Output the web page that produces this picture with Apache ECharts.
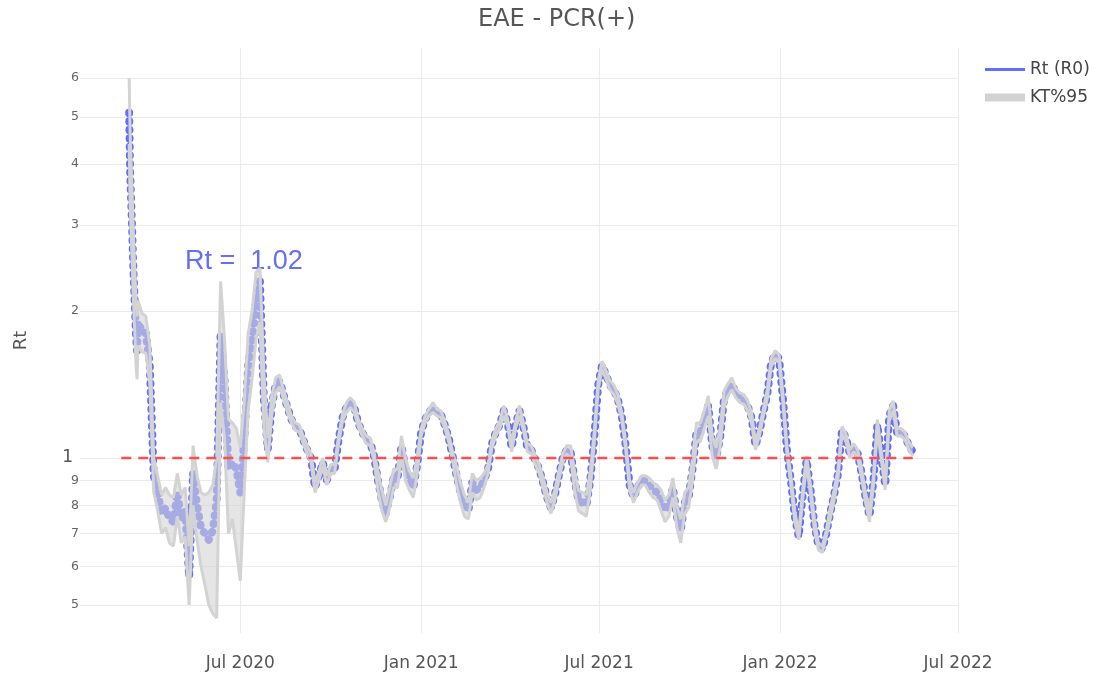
<!DOCTYPE html>
<html>
<head>
<meta charset="utf-8">
<title>EAE - PCR(+)</title>
<script src="https://cdn.jsdelivr.net/npm/echarts@6.0.0/dist/echarts.min.js"></script>
<style>
html,body{margin:0;padding:0;background:#fff;}
#container{width:1100px;height:673px;}
</style>
</head>
<body>
<div id="container"></div>
<script>
// daily for the first days, then every 4 days
var dates = [
'2020-03-10','2020-03-11','2020-03-12','2020-03-13','2020-03-14','2020-03-15','2020-03-16','2020-03-17','2020-03-18',
'2020-03-19','2020-03-23','2020-03-27','2020-03-31','2020-04-04','2020-04-08','2020-04-12','2020-04-16','2020-04-20','2020-04-24',
'2020-04-28','2020-05-02','2020-05-06','2020-05-10','2020-05-14','2020-05-18','2020-05-22','2020-05-26','2020-05-30','2020-06-03',
'2020-06-07','2020-06-11','2020-06-15','2020-06-19','2020-06-23','2020-06-27','2020-07-01','2020-07-05','2020-07-09','2020-07-13',
'2020-07-17','2020-07-21','2020-07-25','2020-07-29','2020-08-02','2020-08-06','2020-08-10','2020-08-14','2020-08-18','2020-08-22',
'2020-08-26','2020-08-30','2020-09-03','2020-09-07','2020-09-11','2020-09-15','2020-09-19','2020-09-23','2020-09-27','2020-10-01',
'2020-10-05','2020-10-09','2020-10-13','2020-10-17','2020-10-21','2020-10-25','2020-10-29','2020-11-02','2020-11-06','2020-11-10',
'2020-11-14','2020-11-18','2020-11-22','2020-11-26','2020-11-30','2020-12-04','2020-12-08','2020-12-12','2020-12-16','2020-12-20',
'2020-12-24','2020-12-28','2021-01-01','2021-01-05','2021-01-09','2021-01-13','2021-01-17','2021-01-21','2021-01-25','2021-01-29',
'2021-02-02','2021-02-06','2021-02-10','2021-02-14','2021-02-18','2021-02-22','2021-02-26','2021-03-02','2021-03-06','2021-03-10',
'2021-03-14','2021-03-18','2021-03-22','2021-03-26','2021-03-30','2021-04-03','2021-04-07','2021-04-11','2021-04-15','2021-04-19',
'2021-04-23','2021-04-27','2021-05-01','2021-05-05','2021-05-09','2021-05-13','2021-05-17','2021-05-21','2021-05-25','2021-05-29',
'2021-06-02','2021-06-06','2021-06-10','2021-06-14','2021-06-18','2021-06-22','2021-06-26','2021-06-30','2021-07-04','2021-07-08',
'2021-07-12','2021-07-16','2021-07-20','2021-07-24','2021-07-28','2021-08-01','2021-08-05','2021-08-09','2021-08-13','2021-08-17',
'2021-08-21','2021-08-25','2021-08-29','2021-09-02','2021-09-06','2021-09-10','2021-09-14','2021-09-18','2021-09-22','2021-09-26',
'2021-09-30','2021-10-04','2021-10-08','2021-10-12','2021-10-16','2021-10-20','2021-10-24','2021-10-28','2021-11-01','2021-11-05',
'2021-11-09','2021-11-13','2021-11-17','2021-11-21','2021-11-25','2021-11-29','2021-12-03','2021-12-07','2021-12-11','2021-12-15',
'2021-12-19','2021-12-23','2021-12-27','2021-12-31','2022-01-04','2022-01-08','2022-01-12','2022-01-16','2022-01-20','2022-01-24',
'2022-01-28','2022-02-01','2022-02-05','2022-02-09','2022-02-13','2022-02-17','2022-02-21','2022-02-25','2022-03-01','2022-03-05',
'2022-03-09','2022-03-13','2022-03-17','2022-03-21','2022-03-25','2022-03-29','2022-04-02','2022-04-06','2022-04-10','2022-04-14',
'2022-04-18','2022-04-22','2022-04-26','2022-04-30','2022-05-04','2022-05-08','2022-05-12','2022-05-16'
];

var rt = [
5.1,3.86,3.38,2.96,2.53,2.25,2.0,1.78,1.66,
1.9,1.82,1.8,1.55,0.92,0.85,0.77,0.79,0.75,0.74,
0.85,0.75,0.78,0.57,0.93,0.8,0.72,0.7,0.68,0.71,
0.82,1.8,1.44,0.95,0.98,0.95,0.85,1.09,1.54,1.75,
2.1,2.3,1.32,1.04,1.28,1.41,1.44,1.35,1.27,1.2,
1.16,1.15,1.09,1.04,1.0,0.87,0.92,0.98,0.9,0.95,
0.95,1.09,1.21,1.27,1.3,1.27,1.18,1.13,1.09,1.08,
1.01,0.9,0.82,0.77,0.83,0.91,0.91,1.06,0.95,0.9,
0.87,0.97,1.13,1.2,1.24,1.27,1.24,1.23,1.17,1.1,
1.01,0.92,0.85,0.8,0.78,0.89,0.86,0.87,0.9,0.95,
1.07,1.13,1.17,1.25,1.18,1.05,1.17,1.25,1.16,1.05,
1.04,0.99,0.95,0.89,0.83,0.79,0.84,0.92,1.0,1.04,
1.03,0.9,0.82,0.81,0.8,0.9,1.1,1.41,1.55,1.48,
1.41,1.38,1.32,1.22,1.06,0.88,0.83,0.87,0.9,0.9,
0.88,0.86,0.85,0.82,0.78,0.8,0.87,0.76,0.71,0.81,
0.83,0.95,1.13,1.13,1.2,1.28,1.06,1.0,1.1,1.32,
1.38,1.42,1.36,1.33,1.32,1.28,1.21,1.06,1.13,1.24,
1.35,1.57,1.63,1.6,1.32,1.04,0.9,0.76,0.69,0.84,
0.99,0.86,0.73,0.66,0.65,0.7,0.77,0.84,0.93,1.14,
1.1,1.02,1.05,1.02,0.93,0.83,0.76,0.9,1.17,1.01,
0.88,1.22,1.28,1.13,1.13,1.11,1.06,1.03
];

var ciLow = [
4.4,3.3,2.9,2.55,2.2,1.95,1.75,1.55,1.45,
1.7,1.65,1.64,1.42,0.85,0.78,0.7,0.72,0.67,0.66,
0.76,0.67,0.69,0.5,0.8,0.68,0.6,0.55,0.5,0.48,
0.47,1.3,1.1,0.7,0.75,0.65,0.56,0.85,1.25,1.45,
1.75,1.9,1.15,0.98,1.22,1.36,1.4,1.32,1.24,1.18,
1.14,1.13,1.07,1.02,0.98,0.85,0.9,0.96,0.88,0.93,
0.93,1.07,1.19,1.24,1.27,1.24,1.16,1.11,1.07,1.06,
0.99,0.86,0.78,0.74,0.79,0.87,0.87,1.01,0.9,0.86,
0.83,0.93,1.11,1.18,1.22,1.24,1.22,1.21,1.15,1.08,
0.99,0.88,0.81,0.76,0.75,0.85,0.82,0.83,0.87,0.93,
1.05,1.11,1.15,1.22,1.16,1.03,1.15,1.22,1.14,1.03,
1.02,0.97,0.93,0.87,0.81,0.77,0.82,0.9,0.98,1.02,
1.0,0.86,0.78,0.77,0.76,0.86,1.07,1.38,1.52,1.45,
1.38,1.35,1.29,1.2,1.04,0.86,0.81,0.85,0.88,0.88,
0.85,0.83,0.82,0.78,0.74,0.76,0.83,0.72,0.67,0.77,
0.79,0.9,1.08,1.08,1.15,1.22,1.01,0.95,1.05,1.27,
1.34,1.38,1.33,1.3,1.29,1.25,1.18,1.04,1.11,1.22,
1.32,1.54,1.6,1.57,1.29,1.02,0.88,0.74,0.68,0.82,
0.97,0.84,0.71,0.65,0.64,0.69,0.75,0.82,0.91,1.12,
1.08,1.0,1.03,1.0,0.91,0.81,0.74,0.88,1.14,0.99,
0.86,1.19,1.25,1.11,1.11,1.09,1.04,1.01
];

var ciHigh = [
6.0,4.6,4.0,3.5,3.0,2.65,2.35,2.1,1.95,
2.1,1.98,1.95,1.7,1.0,0.92,0.84,0.87,0.84,0.83,
0.93,0.84,0.87,0.66,1.06,0.92,0.85,0.84,0.85,0.88,
1.0,2.3,1.75,1.2,1.18,1.15,1.05,1.3,1.8,2.0,
2.4,2.45,1.5,1.1,1.34,1.46,1.48,1.38,1.3,1.22,
1.18,1.17,1.11,1.06,1.02,0.89,0.94,1.0,0.92,0.97,
0.97,1.11,1.23,1.3,1.33,1.3,1.2,1.15,1.11,1.1,
1.03,0.94,0.86,0.8,0.87,0.95,0.95,1.11,1.0,0.94,
0.91,1.01,1.15,1.22,1.26,1.3,1.26,1.25,1.19,1.12,
1.03,0.96,0.89,0.84,0.81,0.93,0.9,0.91,0.93,0.97,
1.09,1.15,1.19,1.28,1.2,1.07,1.19,1.28,1.18,1.07,
1.06,1.01,0.97,0.91,0.85,0.81,0.86,0.94,1.02,1.06,
1.06,0.94,0.86,0.85,0.84,0.94,1.13,1.44,1.58,1.51,
1.44,1.41,1.35,1.24,1.08,0.9,0.85,0.89,0.92,0.92,
0.91,0.89,0.88,0.86,0.82,0.84,0.91,0.8,0.75,0.85,
0.87,1.0,1.18,1.18,1.25,1.34,1.11,1.05,1.15,1.37,
1.42,1.46,1.39,1.36,1.35,1.31,1.24,1.08,1.15,1.26,
1.38,1.6,1.66,1.63,1.35,1.06,0.92,0.78,0.7,0.86,
1.01,0.88,0.75,0.67,0.66,0.71,0.79,0.86,0.95,1.16,
1.12,1.04,1.07,1.04,0.95,0.85,0.78,0.92,1.2,1.03,
0.9,1.25,1.31,1.15,1.15,1.13,1.08,1.05
];

var refDates = ['2020-03-02','2022-05-16'];
var refValues = [1, 1];

var xTickDates = ['2020-07-01','2021-01-01','2021-07-01','2022-01-01','2022-07-01'];
var xTickLabels = ['Jul 2020','Jan 2021','Jul 2021','Jan 2022','Jul 2022'];
var yTickValues = [0.5, 0.6, 0.7, 0.8, 0.9, 1, 2, 3, 4, 5, 6];

var lastRt = '1.02';

function toTime(s) {
    return new Date(s + 'T00:00:00Z').getTime();
}
var times = dates.map(toTime);
var xTickTimes = xTickDates.map(toTime);

var rtData = times.map(function (t, i) { return [t, rt[i]]; });
var lowData = times.map(function (t, i) { return [t, ciLow[i]]; });
var highData = times.map(function (t, i) { return [t, ciHigh[i]]; });
var refData = refDates.map(function (d, i) { return [toTime(d), refValues[i]]; });

var FONT = '"DejaVu Sans", Verdana, sans-serif';
var BLUE = '#636efa';
var GREY = '#d3d3d3';

var myChart = echarts.init(document.getElementById('container'), null, { renderer: 'canvas' });

var option = {
    animation: false,
    backgroundColor: '#fff',
    title: {
        text: 'EAE - PCR(+)',
        left: 478,
        top: 8,
        padding: 0,
        textStyle: { fontFamily: FONT, fontSize: 24, fontWeight: 'normal', color: '#555' }
    },
    legend: [
        {
            left: 985, top: 61, padding: 0, icon: 'rect', itemWidth: 40, itemHeight: 3, itemGap: 7,
            data: [{ name: 'Rt (R0)', itemStyle: { color: BLUE } }],
            textStyle: { fontFamily: FONT, fontSize: 17, color: '#444' }
        },
        {
            left: 985, top: 89, padding: 0, icon: 'rect', itemWidth: 40, itemHeight: 8,
            data: [{ name: 'KT%95', itemStyle: { color: GREY } }],
            textStyle: { fontFamily: FONT, fontSize: 17, color: '#444' }
        }
    ],
    grid: { left: 80, right: 142, top: 48, bottom: 40, containLabel: false },
    xAxis: {
        type: 'value',
        min: toTime('2020-01-20'),
        max: toTime('2022-07-01'),
        axisLine: { show: false },
        axisTick: { show: false, customValues: xTickTimes },
        splitLine: { show: true, lineStyle: { color: '#ebebeb', width: 1 } },
        axisLabel: {
            customValues: xTickTimes,
            margin: 22,
            fontFamily: FONT,
            fontSize: 17,
            color: '#555',
            formatter: function (val) {
                var i = xTickTimes.indexOf(val);
                return i >= 0 ? xTickLabels[i] : '';
            }
        }
    },
    yAxis: {
        type: 'log',
        logBase: 10,
        min: 0.438,
        max: 6.92,
        name: 'Rt',
        nameLocation: 'middle',
        nameGap: 50,
        nameRotate: 90,
        nameTextStyle: { fontFamily: FONT, fontSize: 18, color: '#555' },
        axisLine: { show: false },
        axisTick: { show: false, customValues: yTickValues },
        splitLine: { show: true, lineStyle: { color: '#ebebeb', width: 1 } },
        axisLabel: {
            customValues: yTickValues,
            margin: 1,
            formatter: function (v) {
                if (Math.abs(v - 1) < 1e-6) return '{big|1}';
                if (v < 1) return '{sm|' + Math.round(v * 10) + '}';
                return '{sm|' + Math.round(v) + '}';
            },
            rich: {
                big: { fontFamily: FONT, fontSize: 17, color: '#555', padding: [0, 6, 0, 0] },
                sm: { fontFamily: FONT, fontSize: 12.5, color: '#666' }
            }
        }
    },
    graphic: [
        {
            type: 'text',
            x: 185,
            y: 262,
            style: {
                text: 'Rt =  ' + lastRt,
                fontFamily: '"Liberation Sans", Arial, sans-serif',
                fontSize: 27,
                fill: BLUE,
                verticalAlign: 'middle'
            }
        }
    ],
    series: [
        {
            // dotted thick line stands in for the dense daily markers
            name: 'Rt (R0)',
            type: 'line',
            data: rtData,
            z: 2,
            symbol: 'none',
            lineStyle: { color: BLUE, width: 8, type: [0.5, 8], cap: 'round', join: 'round' },
            itemStyle: { color: BLUE },
            emphasis: { disabled: true }
        },
        {
            name: 'Rt (R0)',
            type: 'line',
            data: rtData,
            z: 2,
            symbol: 'none',
            lineStyle: { color: BLUE, width: 2 },
            itemStyle: { color: BLUE },
            emphasis: { disabled: true }
        },
        {
            // shaded area between the lower and upper bound
            name: 'KT%95',
            type: 'custom',
            z: 3,
            silent: true,
            data: [[times[0], ciLow[0]]],
            renderItem: function (params, api) {
                var pts = [];
                for (var i = 0; i < times.length; i++) {
                    pts.push(api.coord([times[i], ciHigh[i]]));
                }
                for (var j = times.length - 1; j >= 0; j--) {
                    pts.push(api.coord([times[j], ciLow[j]]));
                }
                return {
                    type: 'polygon',
                    shape: { points: pts },
                    style: { fill: 'rgba(211,211,211,0.6)' }
                };
            },
            itemStyle: { color: GREY }
        },
        {
            name: 'KT%95',
            type: 'line',
            data: lowData,
            z: 3,
            symbol: 'none',
            lineStyle: { color: GREY, width: 3 },
            itemStyle: { color: GREY },
            emphasis: { disabled: true }
        },
        {
            name: 'KT%95',
            type: 'line',
            data: highData,
            z: 3,
            symbol: 'none',
            lineStyle: { color: GREY, width: 3 },
            itemStyle: { color: GREY },
            emphasis: { disabled: true }
        },
        {
            name: 'ref',
            type: 'line',
            data: refData,
            z: 5,
            symbol: 'none',
            lineStyle: { color: '#ff4d4d', width: 2.5, type: [10, 7] },
            emphasis: { disabled: true }
        }
    ]
};

myChart.setOption(option);
window.addEventListener('resize', myChart.resize);
</script>
</body>
</html>
